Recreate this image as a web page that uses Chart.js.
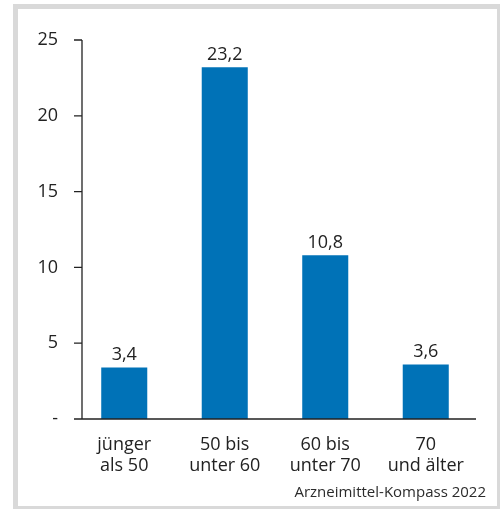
<!DOCTYPE html>
<html>
<head>
<meta charset="utf-8">
<script src="https://cdn.jsdelivr.net/npm/chart.js@4.4.0/dist/chart.umd.min.js"></script>
<style>
    html, body { margin: 0; padding: 0; background: #fff; }
    #frame {
        position: absolute; left: 13px; top: 4px; width: 489px; height: 507px;
        box-sizing: border-box; border: 5px solid #d9d9d9; background: #fff;
    }
    #wrap { position: absolute; left: 0; top: 0; width: 500px; height: 509px; overflow: hidden; }
    #chart { position: absolute; left: 0; top: 0; }
    #source {
        position: absolute; right: 14px; top: 481px;
        font-family: 'Open Sans', sans-serif; font-size: 15px; color: #2b2b2b;
    }
</style>
</head>
<body>
<div id="wrap">
    <div id="frame"></div>
    <canvas id="chart" width="500" height="509"></canvas>
    <div id="source">Arzneimittel-Kompass 2022</div>
</div>
<script>
const categories = [['jünger', 'als 50'], ['50 bis', 'unter 60'], ['60 bis', 'unter 70'], ['70', 'und älter']];
const values = [3.4, 23.2, 10.8, 3.6];
const yTicks = [0, 5, 10, 15, 20, 25];

const textColor = '#222';
const fontFamily = "'Open Sans', sans-serif";

// axis lines drawn by hand: y line sits a bit inside the plot, x line runs full width
const axisPlugin = {
    id: 'axisLines',
    afterDraw(chart) {
        const ctx = chart.ctx;
        const area = chart.chartArea;
        const y = chart.scales.y;
        const axisX = area.left + 8;
        ctx.save();
        ctx.strokeStyle = textColor;
        ctx.lineWidth = 1.3;
        ctx.beginPath();
        ctx.moveTo(axisX, y.getPixelForValue(25));
        ctx.lineTo(axisX, y.getPixelForValue(0));
        yTicks.forEach(v => {
            const py = y.getPixelForValue(v);
            ctx.moveTo(area.left, py);
            ctx.lineTo(axisX, py);
        });
        ctx.moveTo(area.left, y.getPixelForValue(0));
        ctx.lineTo(area.right, y.getPixelForValue(0));
        ctx.stroke();

        // value labels above bars
        ctx.fillStyle = textColor;
        ctx.font = '18px ' + fontFamily;
        ctx.textAlign = 'center';
        ctx.textBaseline = 'alphabetic';
        chart.getDatasetMeta(0).data.forEach((bar, i) => {
            ctx.fillText(values[i].toString().replace('.', ','), bar.x, bar.y - 7);
        });
        ctx.restore();
    }
};

new Chart(document.getElementById('chart'), {
    type: 'bar',
    data: {
        labels: categories,
        datasets: [{
            data: values,
            backgroundColor: '#0072b7',
            barPercentage: 0.458,
            categoryPercentage: 1
        }]
    },
    options: {
        responsive: false,
        animation: false,
        layout: { padding: { top: 40, right: 24, left: 0, bottom: 0 } },
        plugins: { legend: { display: false }, tooltip: { enabled: false } },
        scales: {
            x: {
                grid: { display: false },
                border: { display: false },
                ticks: {
                    color: textColor,
                    font: { family: fontFamily, size: 18, lineHeight: 1.17 },
                    padding: 7
                },
                afterFit(scale) { scale.height = 90; }
            },
            y: {
                min: 0,
                max: 25,
                grid: { display: false },
                border: { display: false },
                ticks: {
                    stepSize: 5,
                    padding: 8,
                    color: textColor,
                    font: { family: fontFamily, size: 18 },
                    callback: v => v === 0 ? '-' : v
                },
                afterFit(scale) { scale.width = 74; }
            }
        }
    },
    plugins: [axisPlugin]
});
</script>
</body>
</html>
